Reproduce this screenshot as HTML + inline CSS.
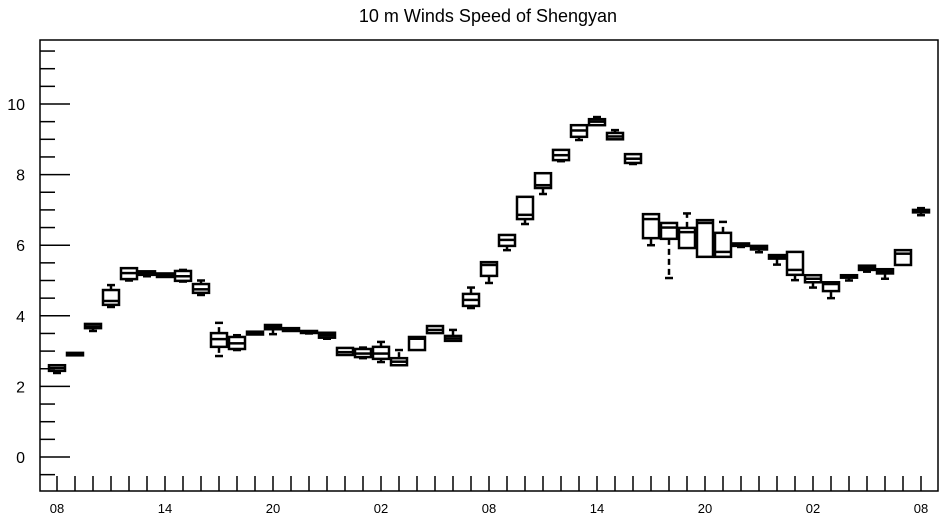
<!DOCTYPE html>
<html><head><meta charset="utf-8"><style>
body{margin:0;background:#fff}
svg{display:block;font-family:"Liberation Sans",sans-serif}
</style></head><body>
<svg id="chart" width="945" height="520" viewBox="0 0 945 520">
<text x="488" y="22" font-size="18" text-anchor="middle">10 m Winds Speed of Shengyan</text>
<g id="axes"></g><g id="boxes"></g>
</svg>
<script>
const hourIndex=[0,1,2,3,4,5,6,7,8,9,10,11,12,13,14,15,16,17,18,19,20,21,22,23,24,25,26,27,28,29,30,31,32,33,34,35,36,37,38,39,40,41,42,43,44,45,46,47,48];
const lowValues=[2.38,2.86,3.57,4.25,5.0,5.12,5.08,4.97,4.59,2.86,3.03,3.45,3.48,3.55,3.5,3.35,2.93,2.8,2.69,2.6,3.03,3.5,3.29,4.22,4.93,5.86,6.6,7.45,8.38,8.98,9.38,8.98,8.3,6.0,5.07,5.92,5.8,5.67,5.95,5.8,5.45,5.01,4.8,4.5,5.0,5.25,5.05,5.44,6.85];
const q1Values=[2.44,2.88,3.65,4.31,5.04,5.16,5.1,4.99,4.65,3.12,3.06,3.47,3.62,3.57,3.53,3.38,2.89,2.83,2.78,2.6,3.03,3.51,3.29,4.28,5.13,5.98,6.74,7.62,8.41,9.07,9.4,9.0,8.33,6.2,6.18,5.92,5.67,5.67,5.98,5.88,5.62,5.16,4.95,4.7,5.08,5.3,5.2,5.44,6.93];
const medianValues=[2.52,2.92,3.7,4.42,5.21,5.22,5.15,5.12,4.75,3.34,3.22,3.51,3.68,3.61,3.55,3.45,2.97,2.93,2.93,2.7,3.35,3.6,3.36,4.45,5.44,6.15,6.86,7.7,8.55,9.25,9.5,9.08,8.45,6.74,6.5,6.37,6.63,5.81,6.02,5.93,5.67,5.3,5.05,4.9,5.12,5.36,5.26,5.76,6.97];
const q3Values=[2.6,2.95,3.77,4.73,5.35,5.26,5.2,5.27,4.9,3.51,3.4,3.55,3.74,3.65,3.57,3.52,3.09,3.06,3.12,2.8,3.4,3.71,3.43,4.62,5.52,6.29,7.37,8.04,8.7,9.4,9.57,9.18,8.58,6.88,6.63,6.49,6.71,6.35,6.05,5.98,5.72,5.81,5.15,4.95,5.15,5.42,5.32,5.86,7.0];
const highValues=[2.6,2.95,3.77,4.87,5.35,5.26,5.2,5.3,5.0,3.8,3.45,3.55,3.74,3.65,3.57,3.52,3.09,3.1,3.26,3.03,3.4,3.71,3.6,4.8,5.52,6.29,7.37,8.04,8.7,9.4,9.63,9.26,8.58,6.88,6.63,6.9,6.71,6.66,6.05,5.98,5.72,5.81,5.15,4.95,5.15,5.42,5.32,5.86,7.05];
const xTickLabels=["08","14","20","02","08","14","20","02","08"];
const yTickLabels=[0,2,4,6,8,10];
const NS="http://www.w3.org/2000/svg";
const L=40,R=938,T=40,B=491;
const X=i=>57+i*18;
const Y=v=>457-v*35.3;
function mk(tag,attrs,parent){const e=document.createElementNS(NS,tag);for(const k in attrs)e.setAttribute(k,attrs[k]);parent.appendChild(e);return e;}
const ax=document.getElementById('axes');
const frame=mk('rect',{x:L,y:T,width:R-L,height:B-T,fill:'none',stroke:'#000','stroke-width':1.5},ax);


for(let v=-0.5;v<=11.5;v+=0.5){
  const major=Math.abs(v%2)<1e-9;
  const t=mk('line',{x1:L,x2:L+(major?30:15),y1:Y(v),y2:Y(v),stroke:'#000','stroke-width':1.5},ax);
  
  
}
yTickLabels.forEach(v=>{
  const t=mk('text',{x:25,y:Y(v)+6,'font-size':16,'text-anchor':'end'},ax);
  t.textContent=v;
  
  
});
hourIndex.forEach(i=>{
  const t=mk('line',{x1:X(i),x2:X(i),y1:B,y2:B-15,stroke:'#000','stroke-width':1.5},ax);
  
  
});
xTickLabels.forEach((s,k)=>{
  const t=mk('text',{x:X(k*6),y:513,'font-size':13,'text-anchor':'middle'},ax);
  t.textContent=s;
  
  
});
const bx=document.getElementById('boxes');
hourIndex.forEach(i=>{
  const g=mk('g',{stroke:'#000','stroke-width':2.5,fill:'none'},bx);
  
  
  const x=X(i),w=16;
  const yq1=Y(q1Values[i]),yq3=Y(q3Values[i]);
  mk('rect',{x:x-w/2,y:yq3,width:w,height:Math.max(yq1-yq3,2)},g);
  mk('line',{x1:x-w/2,x2:x+w/2,y1:Y(medianValues[i]),y2:Y(medianValues[i])},g);
  if(highValues[i]>q3Values[i]+0.02){mk('line',{x1:x,x2:x,y1:yq3,y2:Y(highValues[i]),'stroke-dasharray':'6,4'},g);mk('line',{x1:x-4,x2:x+4,y1:Y(highValues[i]),y2:Y(highValues[i])},g);}
  if(lowValues[i]<q1Values[i]-0.02){mk('line',{x1:x,x2:x,y1:yq1,y2:Y(lowValues[i]),'stroke-dasharray':'6,4'},g);mk('line',{x1:x-4,x2:x+4,y1:Y(lowValues[i]),y2:Y(lowValues[i])},g);}
});
</script>
</body></html>
